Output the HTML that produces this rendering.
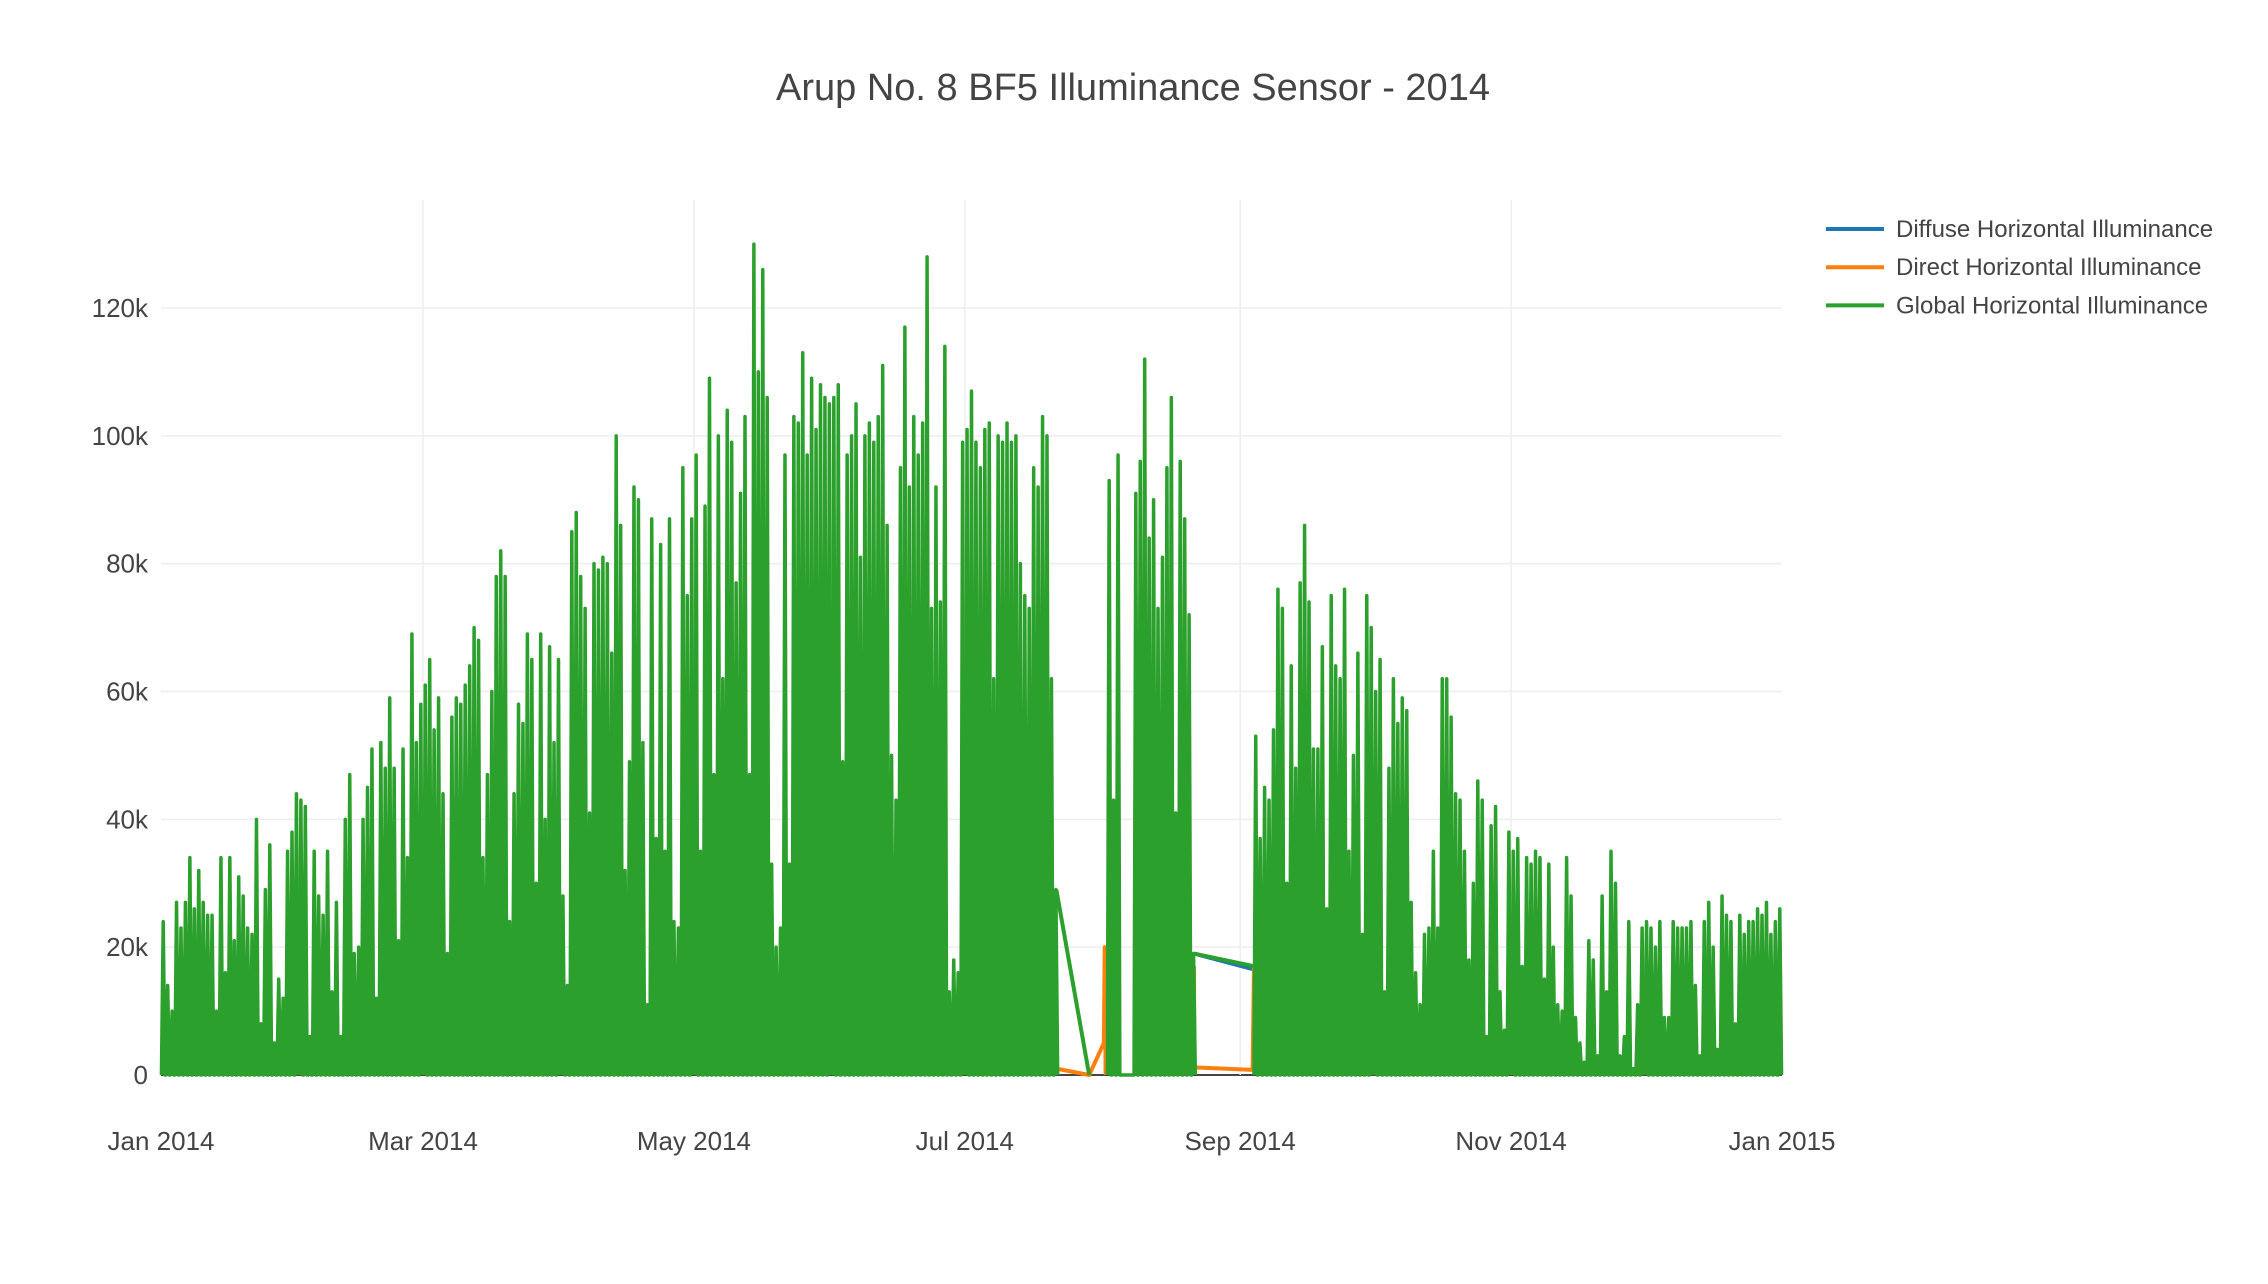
<!DOCTYPE html>
<html><head><meta charset="utf-8"><style>
html,body{margin:0;padding:0;background:#fff;overflow:hidden;width:2268px;height:1284px}
svg{display:block;font-family:"Liberation Sans",sans-serif}
</style></head><body>
<svg id="chart" width="2268" height="1284">
<text x="1133" y="100" text-anchor="middle" font-size="38" fill="#444">Arup No. 8 BF5 Illuminance Sensor - 2014</text>
<g id="grid"></g>
<g id="series"></g>
<g id="axes"></g>
<g id="legend"></g>
</svg>
<script>
const yTicks=[0,20,40,60,80,100,120];
const yTickLabels=["0","20k","40k","60k","80k","100k","120k"];
const xTickDays=[0,59,120,181,243,304,365];
const xTickLabels=["Jan 2014","Mar 2014","May 2014","Jul 2014","Sep 2014","Nov 2014","Jan 2015"];
// daily peak global illuminance (k lux), segment start days
const janStart=0; const jan=[24,14,10,27,23,27,34,26,32,27,25,25,10,34,16,34,21,31,28,23,22,40,8,29,36,5,15,12,35,38,44];
const febStart=31; const feb=[43,42,6,35,28,25,35,13,27,6,40,47,19,20,40,45,51,12,52,48,59,48,21,51,34,69,52,58];
const marStart=59; const mar=[61,65,54,59,44,19,56,59,58,61,64,70,68,34,47,60,78,82,78,24,44,58,55,69,65,30,69,40,67,52,65];
const aprStart=90; const apr=[28,14,85,88,78,73,41,80,79,81,80,66,100,86,32,49,92,90,52,11,87,37,83,35,87,24,23,95,75,87];
const mayStart=120; const may=[97,35,89,109,47,100,62,104,99,77,91,103,47,130,110,126,106,33,20,23,97,33,103,102,113,97,109,101,108,106,105];
const junStart=151; const jun=[106,108,49,97,100,105,81,100,102,99,103,111,86,50,43,95,117,92,103,97,102,128,73,92,74,114,13,18,16,99];
const julStart=181; const jul=[101,107,99,95,101,102,62,100,99,102,99,100,80,75,73,95,92,103,100,62,29];
const augStart=213; const aug=[93,43,97,0,0,0,91,96,112,84,90,73,81,95,106,41,96,87,72,19];
const sepStart=246; const sep=[53,37,45,43,54,76,73,30,64,48,77,86,74,51,51,67,26,75,64,62,76,35,50,66,22,75,70];
const octStart=273; const oct=[60,65,13,48,62,55,59,57,27,16,11,22,23,35,23,62,62,56,44,43,35,18,30,46,43,6,39,42,13,7,38];
const novStart=304; const nov=[35,37,17,34,33,35,34,15,33,20,11,10,34,28,9,5,2,21,18,3,28,13,35,30,3,6,24,1,11,23];
const decStart=334; const dec=[24,23,20,24,9,9,24,23,23,23,24,14,3,24,27,20,4,28,25,24,8,25,22,24,24,26,25,27,22,24,26];
// gap connector lines (day, value)
const gapFromDay=[201.6,232.6]; const gapFromVal=[29,19];
const gapToDay=[209,246.2]; const gapToVal=[0,17];
const orangeDays=[201.6,209,212.3,212.5,212.7]; const orangeVals=[1,0,5,20,0];
const orangeDays2=[232.6,232.7,245.8,246.1]; const orangeVals2=[17,1.2,0.8,17];
const blueDays=[232.6,246.2]; const blueVals=[19,16.5];

const NS="http://www.w3.org/2000/svg";
const X0=161,X1=1782,Y0=1075,Y120=308;
const x=d=>X0+d*(X1-X0)/365;
const y=v=>Y0-v*(Y0-Y120)/120;
function mk(tag,attrs,parent){const e=document.createElementNS(NS,tag);for(const k in attrs)e.setAttribute(k,attrs[k]);parent.appendChild(e);return e;}
const grid=document.getElementById('grid'),axes=document.getElementById('axes'),ser=document.getElementById('series'),leg=document.getElementById('legend');
yTicks.forEach((t,i)=>{
 const l=mk('line',{x1:X0,x2:X1,y1:y(t),y2:y(t),stroke:t===0?'#444':'#eee','stroke-width':t===0?2:1.5},grid);
 
 
 const tx=mk('text',{x:148,y:y(t)+9,'text-anchor':'end','font-size':26,fill:'#444'},axes);
 tx.textContent=yTickLabels[i];
 
 
});
xTickDays.forEach((d,i)=>{
 if(d>0&&d<365){const l=mk('line',{x1:x(d),x2:x(d),y1:200,y2:Y0,stroke:'#eee','stroke-width':1.5},grid);
 
 }
 const tx=mk('text',{x:x(d),y:1150,'text-anchor':'middle','font-size':26,fill:'#444'},axes);
 tx.textContent=xTickLabels[i];
 
 
});
const segs=[[janStart,jan],[febStart,feb],[marStart,mar],[aprStart,apr],[mayStart,may],[junStart,jun],[julStart,jul],[augStart,aug],[sepStart,sep],[octStart,oct],[novStart,nov],[decStart,dec]];
function poly(pts,color,w,name){const p=mk('polyline',{points:pts.map(q=>q.join(',')).join(' '),fill:'none',stroke:color,'stroke-width':w,'stroke-linejoin':'round'},ser);
 
 }
poly(blueDays.map((d,i)=>[x(d),y(blueVals[i])]),'#1f77b4',4,'diffuse-series');
poly(orangeDays.map((d,i)=>[x(d),y(orangeVals[i])]),'#ff7f0e',4,'direct-series');
poly(orangeDays2.map((d,i)=>[x(d),y(orangeVals2[i])]),'#ff7f0e',4,'direct-series-2');
segs.forEach(([s,vals])=>{
 const pts=[];
 vals.forEach((v,i)=>{const d=s+i;pts.push([x(d+0.1),y(0)],[x(d+0.5),y(v)],[x(d+0.9),y(0)]);
  const f=mk('polygon',{points:[[x(d+0.1),y(0)],[x(d+0.5),y(v)],[x(d+0.9),y(0)]].map(q=>q.join(',')).join(' '),fill:'#2ca02c'},ser);
  
  });
 poly(pts,'#2ca02c',3.5,'global-series');
});
gapFromDay.forEach((d,i)=>poly([[x(d),y(gapFromVal[i])],[x(gapToDay[i]),y(gapToVal[i])]],'#2ca02c',4,'global-gap-line'));
const names=["Diffuse Horizontal Illuminance","Direct Horizontal Illuminance","Global Horizontal Illuminance"];
const cols=['#1f77b4','#ff7f0e','#2ca02c'];
names.forEach((n,i)=>{const yy=229+i*38.2;
 const g=mk('g',{},leg);
 
 
 mk('line',{x1:1826,x2:1884,y1:yy,y2:yy,stroke:cols[i],'stroke-width':4},g);
 const t=mk('text',{x:1896,y:yy+8,'font-size':24,fill:'#444'},g);t.textContent=n;});
</script>
</body></html>
